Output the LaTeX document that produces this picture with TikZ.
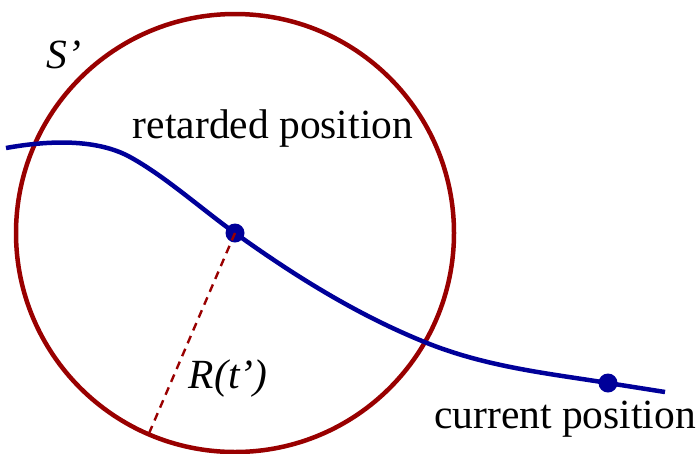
\documentclass[tikz,border=0pt]{standalone}
\usepackage{fontspec}
\setmainfont{Liberation Serif}
\definecolor{sred}{RGB}{153,0,0}
\definecolor{snavy}{RGB}{0,0,153}
\begin{document}
\begin{tikzpicture}[x=1pt,y=-1pt,
  sphere/.style={draw=sred,line width=4.5pt},
  traj/.style={draw=snavy,line width=4.5pt},
  dot/.style={circle,fill=snavy,inner sep=0pt,minimum size=19pt},
  radius line/.style={draw=sred,line width=2.4pt,dash pattern=on 8pt off 6pt},
  lbl/.style={font=\fontsize{41.5}{48}\selectfont,inner sep=0pt,anchor=base}]
\useasboundingbox (0,0) rectangle (700,453);
\coordinate (c) at (235,233);
\coordinate (cp) at (608,383);
\coordinate (start) at (6,148);
\coordinate (stop) at (665,392);
\draw[sphere] (c) circle[radius=219pt];
\coordinate (rim) at (148.6,434.3);
\draw[traj] (start) .. controls (56,139) and (100,140.5) .. (130,157)
  .. controls (165,176.25) and (200,207.8) .. (c)
  .. controls (300,279.8) and (362,317) .. (427,343)
  .. controls (487,367) and (548,373.4) .. (cp)
  .. controls (627,386) and (646,389) .. (stop);
\node[dot] (ret) at (c) {};
\node[dot] (cur) at (cp) {};
\draw[radius line] (ret.center) -- (rim);
\node[lbl] (sl) at (64,68) {\itshape S’};
\node[lbl] (rl) at (273,138) {retarded position};
\node[lbl] (rt) at (228,388) {\itshape R(t’)};
\node[lbl] (cl) at (565,428) {current position};
\end{tikzpicture}
\end{document}
